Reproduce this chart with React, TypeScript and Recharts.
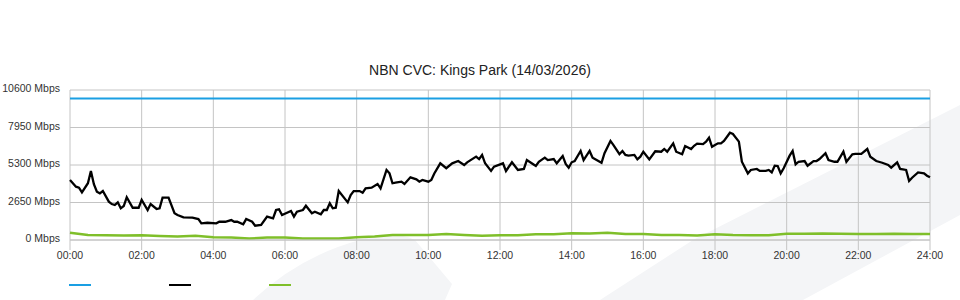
import React from "react";
import { LineChart, Line, XAxis, YAxis, CartesianGrid, Legend } from "recharts";

const title = "NBN CVC: Kings Park (14/03/2026)";

const yTicks = [0, 2650, 5300, 7950, 10600];
const xTicks = [0, 120, 240, 360, 480, 600, 720, 840, 960, 1080, 1200, 1320, 1440];
const hourLines = [0, 60, 120, 180, 240, 300, 360, 420, 480, 540, 600, 660, 720, 780, 840, 900, 960, 1020, 1080, 1140, 1200, 1260, 1320, 1380, 1440];

const capacityMinutes = [0, 1440];
const capacityMbps = [10000, 10000];

const downMinutes = [
  0, 10, 15, 20, 30, 35, 40, 45, 50, 55, 65, 70, 75, 80, 85, 90, 95, 105, 115, 120,
  130, 135, 145, 150, 155, 165, 175, 180, 190, 205, 215, 220, 230, 245, 250, 260, 270, 275, 280, 290,
  295, 305, 310, 320, 330, 340, 345, 350, 355, 370, 375, 380, 390, 395, 405, 410, 420, 425, 430, 435,
  440, 445, 450, 465, 470, 475, 485, 490, 495, 505, 515, 520, 530, 535, 540, 545, 555, 560, 570, 580,
  585, 590, 600, 605, 610, 620, 630, 640, 650, 660, 665, 680, 685, 690, 695, 705, 710, 725, 730, 740,
  750, 760, 765, 775, 780, 785, 795, 800, 810, 815, 825, 830, 835, 840, 845, 855, 860, 870, 875, 890,
  895, 905, 910, 920, 925, 930, 935, 945, 950, 955, 960, 970, 980, 990, 995, 1000, 1010, 1015, 1025, 1030,
  1040, 1045, 1050, 1060, 1065, 1070, 1075, 1080, 1085, 1090, 1095, 1105, 1110, 1120, 1125, 1135, 1140, 1150, 1155, 1165,
  1170, 1175, 1180, 1185, 1190, 1195, 1205, 1210, 1215, 1220, 1230, 1235, 1245, 1250, 1255, 1265, 1270, 1280, 1285, 1295,
  1300, 1310, 1315, 1325, 1335, 1340, 1350, 1360, 1370, 1375, 1385, 1390, 1400, 1405, 1410, 1420, 1430, 1435, 1440,
];
const downMbps = [
  4240, 3770, 3700, 3370, 4010, 4880, 3940, 3410, 3300, 3460, 2710, 2540, 2470, 2660, 2240, 2400, 3020, 2280, 2280, 2830,
  2120, 2540, 2190, 2240, 2990, 2990, 1890, 1770, 1600, 1580, 1480, 1180, 1220, 1180, 1290, 1290, 1410, 1290, 1290, 1110,
  1480, 1290, 1010, 1060, 1650, 1530, 2120, 2170, 1770, 2050, 1650, 2000, 2120, 2420, 1890, 2000, 1820, 2120, 2120, 2590,
  2240, 2280, 3460, 2660, 3180, 3460, 3460, 3340, 3650, 3700, 3960, 3650, 4950, 4710, 4010, 4050, 4120, 3960, 4430, 4290,
  4120, 4240, 4120, 4240, 4700, 5420, 5070, 5420, 5580, 5300, 5490, 5890, 5720, 6010, 5420, 4880, 5180, 5420, 4880, 5490,
  4950, 5020, 5650, 5370, 5230, 5530, 5820, 5650, 5720, 5420, 5940, 5370, 5110, 5490, 5580, 6290, 5650, 6290, 5820, 5460,
  6130, 7000, 6710, 6060, 6290, 6010, 5960, 6010, 5700, 5890, 6240, 5700, 6270, 6240, 6430, 6240, 6830, 6240, 6060, 6640,
  6430, 6660, 6810, 6780, 6950, 7230, 6590, 6710, 6830, 6830, 7000, 7580, 7490, 6950, 5530, 4710, 4950, 5020, 4880, 4880,
  4950, 4780, 5250, 5230, 4710, 5070, 5960, 6290, 5350, 5530, 5580, 5250, 5580, 5580, 5720, 6130, 5650, 5530, 5530, 6240,
  5530, 6060, 6080, 6080, 6430, 5890, 5580, 5460, 5300, 5110, 5490, 5020, 4950, 4170, 4400, 4780, 4710, 4540, 4430,
];

const upMinutes = [
  0, 30, 60, 90, 120, 150, 180, 210, 240, 270, 300, 330, 360, 390, 420, 450, 480, 510, 540, 570,
  600, 630, 660, 690, 720, 750, 780, 810, 840, 870, 900, 930, 960, 990, 1020, 1050, 1080, 1110, 1140, 1170,
  1200, 1230, 1260, 1290, 1320, 1350, 1380, 1410, 1440,
];
const upMbps = [
  520, 350, 330, 320, 330, 280, 240, 300, 190, 180, 100, 170, 180, 100, 100, 100, 190, 250, 350, 350,
  360, 420, 350, 300, 330, 330, 400, 400, 470, 460, 520, 420, 420, 350, 350, 320, 400, 350, 330, 340,
  450, 450, 460, 440, 420, 430, 440, 420, 420,
];

const zip = (ts: number[], vs: number[]) => ts.map((t, i) => ({ t, v: vs[i] }));
const capacityData = zip(capacityMinutes, capacityMbps);
const downData = zip(downMinutes, downMbps);
const upData = zip(upMinutes, upMbps);

const FONT = '"Liberation Sans", Arial, Helvetica, sans-serif';

const fmtTime = (m: number) => `${String(Math.floor(m / 60)).padStart(2, "0")}:00`;

const YTick = (props: any) => {
  const { x, y, payload } = props;
  return (
    <text x={x} y={y} dy={2} textAnchor="end" fill="#333" fontSize={10.5} fontFamily={FONT}>
      {`${payload.value} Mbps`}
    </text>
  );
};

const LegendContent = (props: any) => {
  const items = props.payload || [];
  return (
    <div style={{ position: "relative", height: 16 }}>
      {items.map((it: any, i: number) => (
        <div
          key={i}
          style={{
            position: "absolute",
            left: 69 + i * 100,
            top: 7,
            width: 22,
            height: 2,
            background: it.color,
          }}
        />
      ))}
    </div>
  );
};

export default function App() {
  return (
    <div style={{ position: "absolute", left: 0, top: 0, width: 960, height: 300, background: "#fff", overflow: "hidden" }}>
      <svg width={960} height={300} style={{ position: "absolute", left: 0, top: 0 }}>
        <path d="M253,300 Q300,256 360,240 Q392,229 415,240 L452,284 L445,300 Z" fill="#f4f5f7" />
        <path d="M600,300 L693,240 L960,105 L960,215 L803,300 Z" fill="#f4f5f7" />
      </svg>
      <div
        style={{
          position: "absolute",
          left: 0,
          top: 61,
          width: 960,
          textAlign: "center",
          fontFamily: FONT,
          fontSize: 14,
          lineHeight: "18px",
          color: "#222",
        }}
      >
        {title}
      </div>
      <div style={{ position: "absolute", left: 0, top: 0 }}>
        <LineChart width={960} height={300} margin={{ top: 90, right: 30, bottom: 30, left: 10 }}>
          <CartesianGrid stroke="#c4c4c4" strokeWidth={1} verticalValues={hourLines} horizontalValues={yTicks} />
          <XAxis
            dataKey="t"
            type="number"
            domain={[0, 1440]}
            ticks={xTicks}
            tickFormatter={fmtTime}
            height={30}
            tickSize={10}
            tickMargin={2}
            stroke="#c4c4c4"
            tick={{ fill: "#333", fontSize: 10.5, fontFamily: FONT }}
            allowDuplicatedCategory={false}
          />
          <YAxis
            type="number"
            domain={[0, 10600]}
            ticks={yTicks}
            width={60}
            axisLine={false}
            tickLine={false}
            tickMargin={4}
            tick={<YTick />}
          />
          <Legend
            layout="horizontal"
            verticalAlign="middle"
            align="center"
            content={<LegendContent />}
            wrapperStyle={{ position: "absolute", top: 277, left: 0, width: 960, height: 16 }}
          />
          <Line data={capacityData} dataKey="v" name="Capacity" stroke="#1a9fe3" strokeWidth={2} dot={false} isAnimationActive={false} />
          <Line data={downData} dataKey="v" name="Download" stroke="#000" strokeWidth={2.3} dot={false} isAnimationActive={false} />
          <Line data={upData} dataKey="v" name="Upload" stroke="#7fbf2a" strokeWidth={2.5} dot={false} isAnimationActive={false} />
        </LineChart>
      </div>
    </div>
  );
}
